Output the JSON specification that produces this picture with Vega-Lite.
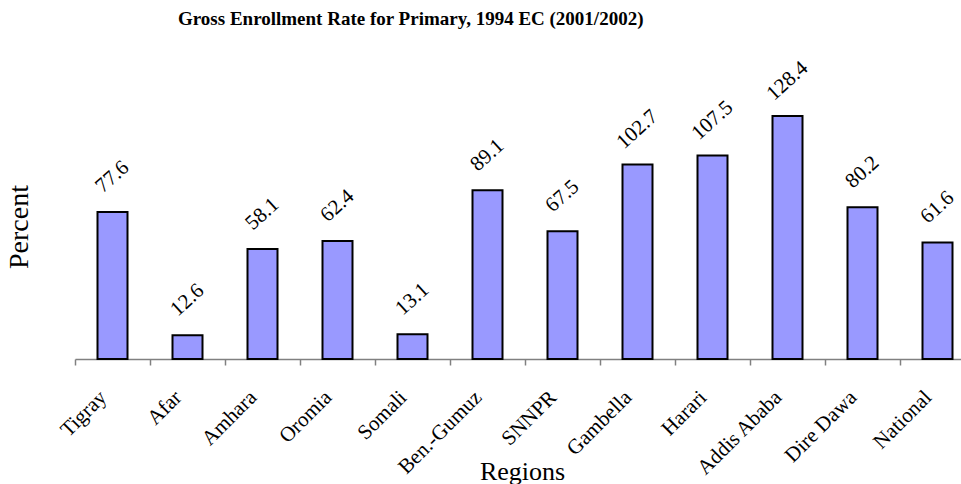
{
  "$schema": "https://vega.github.io/schema/vega-lite/v6.json",
  "autosize": {"type": "none"},
  "width": 886,
  "height": 265,
  "padding": {"left": 75, "top": 94, "right": 0, "bottom": 125},
  "background": "white",
  "title": {
    "text": "Gross Enrollment Rate for Primary, 1994 EC (2001/2002)",
    "font": "Liberation Serif",
    "fontSize": 19,
    "fontWeight": "bold",
    "color": "black",
    "anchor": "start",
    "frame": "group",
    "dx": 103,
    "offset": 28
  },
  "config": {
    "view": {"stroke": null},
    "font": "Liberation Serif"
  },
  "data": {
    "values": [
      {"region": "Tigray", "value": 77.6},
      {"region": "Afar", "value": 12.6},
      {"region": "Amhara", "value": 58.1},
      {"region": "Oromia", "value": 62.4},
      {"region": "Somali", "value": 13.1},
      {"region": "Ben.-Gumuz", "value": 89.1},
      {"region": "SNNPR", "value": 67.5},
      {"region": "Gambella", "value": 102.7},
      {"region": "Harari", "value": 107.5},
      {"region": "Addis Ababa", "value": 128.4},
      {"region": "Dire Dawa", "value": 80.2},
      {"region": "National", "value": 61.6}
    ]
  },
  "encoding": {
    "x": {
      "field": "region",
      "type": "nominal",
      "sort": null,
      "scale": {"range": [0, 900], "paddingInner": 0, "paddingOuter": 0},
      "axis": {
        "title": "Regions",
        "titleFont": "Liberation Serif",
        "titleFontSize": 26,
        "titleFontWeight": "normal",
        "titleColor": "black",
        "titleX": 447,
        "titleY": 120,
        "titleBaseline": "alphabetic",
        "bandPosition": 0,
        "labelAngle": -45,
        "labelAlign": "right",
        "labelBaseline": "middle",
        "labelFont": "Liberation Serif",
        "labelFontSize": 21,
        "labelColor": "black",
        "labelPadding": 29,
        "labelOffset": -9,
        "domainColor": "#808080",
        "domainWidth": 1.5,
        "tickColor": "#808080",
        "tickWidth": 1.5,
        "tickSize": 6,
        "grid": false
      }
    },
    "y": {
      "field": "value",
      "type": "quantitative",
      "scale": {"domain": [0, 140], "nice": false},
      "axis": {
        "title": "Percent",
        "titleFont": "Liberation Serif",
        "titleFontSize": 28,
        "titleFontWeight": "normal",
        "titleColor": "black",
        "titlePadding": 42,
        "labels": false,
        "ticks": false,
        "domain": false,
        "grid": false
      }
    }
  },
  "layer": [
    {
      "mark": {
        "type": "bar",
        "width": {"band": 0.4},
        "fill": "#9999FF",
        "stroke": "black",
        "strokeWidth": 2
      }
    },
    {
      "mark": {
        "type": "text",
        "angle": -42,
        "align": "center",
        "baseline": "middle",
        "yOffset": -35,
        "font": "Liberation Serif",
        "fontSize": 21,
        "color": "black"
      },
      "encoding": {
        "text": {"field": "value", "type": "quantitative", "format": ".1f"}
      }
    }
  ]
}
